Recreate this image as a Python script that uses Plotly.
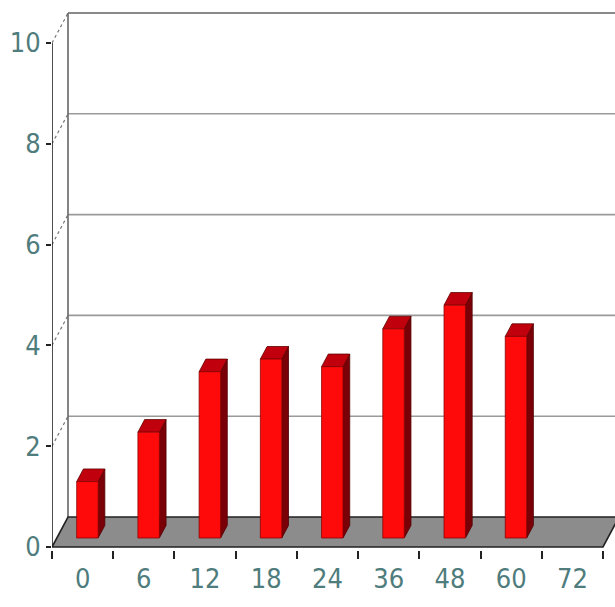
import plotly.graph_objects as go

# Category labels (months) and measured values
categories = ["0", "6", "12", "18", "24", "36", "48", "60", "72"]
values = [1.12, 2.1, 3.3, 3.55, 3.4, 4.15, 4.62, 4.0, None]
y_ticks = [0, 2, 4, 6, 8, 10]

# Pseudo-3D geometry (in axis units): depth vector of the floor / walls
DX, DY = 0.2614, 0.595
T0, T1 = 0.30, 0.72      # bar depth, as fractions of the full depth
W = 0.35                 # bar width in category units
N = len(categories)
X_MAX = 9.196
Y_MIN, Y_MAX = -0.0595, 10.853

fig = go.Figure()

def poly(xs, ys, fill, line_color, lw=1.0):
    fig.add_trace(go.Scatter(x=xs, y=ys, mode="lines", fill="toself",
                             fillcolor=fill, line=dict(color=line_color, width=lw),
                             hoverinfo="skip", showlegend=False))

def line(xs, ys, color, width, dash="solid"):
    fig.add_trace(go.Scatter(x=xs, y=ys, mode="lines",
                             line=dict(color=color, width=width, dash=dash),
                             hoverinfo="skip", showlegend=False))

# Back wall gridlines and their slanted continuation on the side wall
for k in y_ticks[1:]:
    line([0, DX], [k, k + DY], "#777777", 1.2, "dot")
    color, width = ("#8a8a8a", 2.2) if k == y_ticks[-1] else ("#9a9a9a", 1.6)
    line([DX, X_MAX + 1], [k + DY, k + DY], color, width)

# Back wall left edge
line([DX, DX], [DY, y_ticks[-1] + DY], "#666666", 1.6)

# Floor
poly([0, N, N + DX, DX, 0], [0, 0, DY, DY, 0], "#8c8c8c", "#222222", 1.6)

# Front value axis
line([0, 0], [0, y_ticks[-1]], "#222222", 1.6)

# Bars: side faces, top faces, then front faces
sx, sy, tx, ty, fx, fy = [], [], [], [], [], []
for i, v in enumerate(values):
    if v is None:
        continue
    c = i + 0.5 + T0 * DX
    x0, x1 = c - W / 2, c + W / 2
    b = T0 * DY
    top = b + v
    ddx, ddy = (T1 - T0) * DX, (T1 - T0) * DY
    sx += [x1, x1, x1 + ddx, x1 + ddx, x1, None]
    sy += [b, top, top + ddy, b + ddy, b, None]
    tx += [x0, x1, x1 + ddx, x0 + ddx, x0, None]
    ty += [top, top, top + ddy, top + ddy, top, None]
    fx += [x0, x1, x1, x0, x0, None]
    fy += [b, b, top, top, b, None]

poly(sx, sy, "#7a0008", "#500000", 0.8)
poly(tx, ty, "#c0000c", "#600000", 0.8)
poly(fx, fy, "#ff0a0a", "#8a0000", 0.8)

label_font = dict(family="Liberation Sans Narrow, Arial Narrow, DejaVu Sans Condensed",
                  size=27, color="#4f7c7c")

fig.update_layout(
    width=615, height=607,
    margin=dict(l=52, r=0, t=0, b=57),
    paper_bgcolor="white", plot_bgcolor="white",
    showlegend=False,
    xaxis=dict(range=[0, X_MAX], showgrid=False, zeroline=False, showline=False,
               tickmode="array", tickvals=[i + 0.5 for i in range(N)],
               ticktext=categories, ticks="", tickfont=label_font,
               ticklabelstandoff=10,
               minor=dict(tickmode="linear", tick0=0, dtick=1, ticks="outside",
                          ticklen=8, tickwidth=1.5, tickcolor="#222222",
                          showgrid=False)),
    yaxis=dict(range=[Y_MIN, Y_MAX], showgrid=False, zeroline=False, showline=False,
               tickmode="array", tickvals=y_ticks, ticks="outside", ticklen=5,
               tickwidth=1.5, tickcolor="#222222", tickfont=label_font,
               ticklabelstandoff=0),
)

fig.write_html("out.html")
